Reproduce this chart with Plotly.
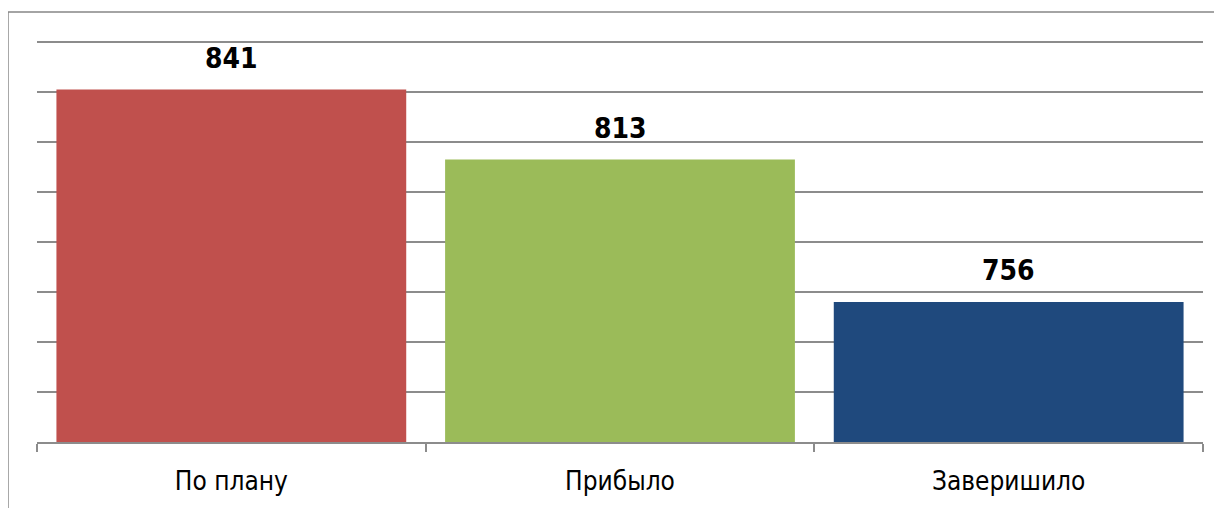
import plotly.graph_objects as go

categories = ["По плану", "Прибыло", "Заверишило"]
values = [841, 813, 756]
colors = ["#C0504D", "#9BBB59", "#1F497D"]

FONT = "DejaVu Sans Condensed, Liberation Sans Narrow, Arial Narrow, sans-serif"

fig = go.Figure()
fig.add_trace(go.Bar(
    x=categories, y=values,
    marker=dict(color=colors, line=dict(width=0)),
    hoverinfo="skip",
))

for c, v in zip(categories, values):
    fig.add_annotation(
        x=c, y=v, text=f"<b>{v}</b>", showarrow=False,
        yanchor="bottom", yshift=13,
        font=dict(family=FONT, size=28, color="#000000"),
    )

fig.update_layout(
    width=1214, height=500,
    margin=dict(l=29, r=19, t=29, b=66),
    paper_bgcolor="white", plot_bgcolor="white",
    bargap=0.1,
    showlegend=False,
    font=dict(family=FONT, color="#000000"),
    xaxis=dict(
        type="category",
        tickson="boundaries",
        ticks="outside", ticklen=8, tickwidth=2, tickcolor="#8c8c8c",
        showline=True, linecolor="#8c8c8c", linewidth=2,
        showgrid=False,
        tickfont=dict(family=FONT, size=26, color="#000000"),
        ticklabelstandoff=15,
    ),
    yaxis=dict(
        range=[700, 862],
        dtick=20, tick0=700,
        showgrid=True, gridcolor="#8c8c8c", gridwidth=2,
        showticklabels=False, ticks="",
        zeroline=False, showline=False,
    ),
    shapes=[
        dict(type="rect", xref="paper", yref="paper",
             x0=-0.0249, x1=1.03, y0=-0.25, y1=1.0617,
             line=dict(color="#868686", width=1.5), fillcolor="rgba(0,0,0,0)",
             layer="below"),
    ],
)

fig.write_html("out.html")
